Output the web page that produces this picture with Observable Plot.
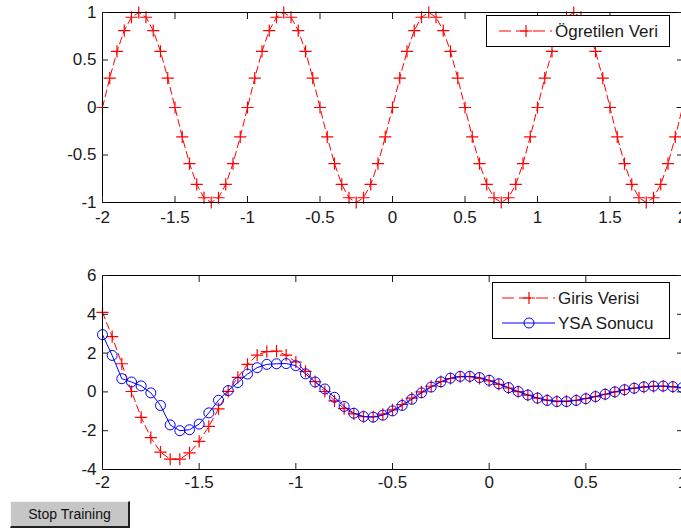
<!DOCTYPE html>
<html><head><meta charset="utf-8">
<script src="https://cdn.jsdelivr.net/npm/d3@7"></script>
<script src="https://cdn.jsdelivr.net/npm/@observablehq/plot@0.6"></script>
<style>
html,body{margin:0;padding:0;background:#fff;overflow:hidden;width:681px;height:531px;}
#wrap{position:relative;width:681px;height:531px;overflow:hidden;font-family:"Liberation Sans",Arial,sans-serif;}
.chart{position:absolute;left:0;width:700px;}
.chart svg{max-width:none !important;width:700px !important;}
#top{top:0;}
#bot{top:250px;}
#legend{position:absolute;left:0;top:0;width:681px;height:531px;pointer-events:none;}
#btn{position:absolute;left:10px;top:501px;width:117px;height:24px;background:#c6c6c6;border-top:1px solid #f4f4f4;border-left:1px solid #f4f4f4;border-right:2px solid #202020;border-bottom:2px solid #202020;font:14px "Liberation Sans",Arial,sans-serif;color:#111;text-align:center;line-height:24px;box-sizing:content-box;}
</style></head><body>
<div id="wrap">
<div id="top" class="chart"></div>
<div id="bot" class="chart"></div>
<svg id="legend" width="681" height="531"></svg>
<div id="btn">Stop Training</div>
</div>
<script>
// ---- top chart data (Ögretilen Veri) ----
const topX = [-2,-1.95,-1.9,-1.85,-1.8,-1.75,-1.7,-1.65,-1.6,-1.55,
-1.5,-1.45,-1.4,-1.35,-1.3,-1.25,-1.2,-1.15,-1.1,-1.05,
-1,-0.95,-0.9,-0.85,-0.8,-0.75,-0.7,-0.65,-0.6,-0.55,
-0.5,-0.45,-0.4,-0.35,-0.3,-0.25,-0.2,-0.15,-0.1,-0.05,
0,0.05,0.1,0.15,0.2,0.25,0.3,0.35,0.4,0.45,
0.5,0.55,0.6,0.65,0.7,0.75,0.8,0.85,0.9,0.95,
1,1.05,1.1,1.15,1.2,1.25,1.3,1.35,1.4,1.45,
1.5,1.55,1.6,1.65,1.7,1.75,1.8,1.85,1.9,1.95,
2];
const topY = [0,0.31,0.59,0.81,0.95,1,0.95,0.81,0.59,0.31,0,-0.31,-0.59,-0.81,-0.95,-1,-0.95,-0.81,-0.59,-0.31,
0,0.31,0.59,0.81,0.95,1,0.95,0.81,0.59,0.31,0,-0.31,-0.59,-0.81,-0.95,-1,-0.95,-0.81,-0.59,-0.31,
0,0.31,0.59,0.81,0.95,1,0.95,0.81,0.59,0.31,0,-0.31,-0.59,-0.81,-0.95,-1,-0.95,-0.81,-0.59,-0.31,
0,0.31,0.59,0.81,0.95,1,0.95,0.81,0.59,0.31,0,-0.31,-0.59,-0.81,-0.95,-1,-0.95,-0.81,-0.59,-0.31,
0];
const topXTicks = [-2,-1.5,-1,-0.5,0,0.5,1,1.5,2];
const topYTicks = [-1,-0.5,0,0.5,1];

// ---- bottom chart data ----
const botX = [-2,-1.95,-1.9,-1.85,-1.8,-1.75,-1.7,-1.65,-1.6,-1.55,
-1.5,-1.45,-1.4,-1.35,-1.3,-1.25,-1.2,-1.15,-1.1,-1.05,
-1,-0.95,-0.9,-0.85,-0.8,-0.75,-0.7,-0.65,-0.6,-0.55,
-0.5,-0.45,-0.4,-0.35,-0.3,-0.25,-0.2,-0.15,-0.1,-0.05,
0,0.05,0.1,0.15,0.2,0.25,0.3,0.35,0.4,0.45,
0.5,0.55,0.6,0.65,0.7,0.75,0.8,0.85,0.9,0.95,
1];
const girisY = [4.1,2.85,1.45,0.02,-1.31,-2.36,-3.1,-3.47,-3.47,-3.14,
-2.55,-1.78,-0.87,0.03,0.75,1.42,1.9,2.08,2.1,1.9,
1.54,1.06,0.53,0.02,-0.46,-0.86,-1.13,-1.28,-1.28,-1.15,
-0.93,-0.65,-0.32,0,0.29,0.53,0.69,0.78,0.78,0.7,
0.57,0.39,0.2,0.01,-0.17,-0.32,-0.42,-0.48,-0.48,-0.43,
-0.34,-0.24,-0.12,0,0.11,0.19,0.25,0.28,0.29,0.26,
0.21];
const ysaY = [2.95,1.88,0.68,0.51,0.31,-0.05,-0.7,-1.7,-2.0,-1.95,
-1.66,-1.08,-0.43,0.07,0.48,0.92,1.25,1.42,1.45,1.46,
1.35,0.93,0.51,0.15,-0.28,-0.75,-1.1,-1.27,-1.3,-1.2,
-0.98,-0.7,-0.38,-0.05,0.25,0.52,0.71,0.8,0.8,0.74,
0.6,0.42,0.22,0.02,-0.16,-0.32,-0.44,-0.5,-0.5,-0.44,
-0.35,-0.24,-0.12,0,0.11,0.19,0.26,0.3,0.3,0.27,
0.22];
const botXTicks = [-2,-1.5,-1,-0.5,0,0.5,1];
const botYTicks = [-4,-2,0,2,4,6];

const seriesNames = ["Ögretilen Veri","Giris Verisi","YSA Sonucu"];

const fmt = d => String(d);
const blank = () => "";
const style = {fontFamily:'"Liberation Sans", Arial, sans-serif', fontSize:"17px", color:"#1a1a1a", background:"transparent", overflow:"visible", maxWidth:"none"};

const topData = topX.map((x,i)=>({x, y: topY[i]}));
const topPlot = Plot.plot({
  width: 700, height: 230,
  marginLeft: 102, marginRight: 18, marginTop: 12, marginBottom: 28,
  x: {domain: [-2, 2], label: null},
  y: {domain: [-1, 1], label: null},
  style,
  marks: [
    Plot.line(topData, {x: "x", y: "y", stroke: "red", strokeWidth: 1, strokeDasharray: "7,4"}),
    Plot.dot(topData, {x: "x", y: "y", symbol: "plus", r: 4, stroke: "red", strokeWidth: 1.2}),
    Plot.frame({stroke: "black"}),
    Plot.axisX(topXTicks, {anchor: "bottom", tickSize: -6, tickPadding: 14, tickFormat: fmt, label: null}),
    Plot.axisX(topXTicks, {anchor: "top", tickSize: -6, tickFormat: blank, label: null}),
    Plot.axisY(topYTicks, {anchor: "left", tickSize: -6, tickPadding: 12, tickFormat: fmt, label: null}),
    Plot.axisY(topYTicks, {anchor: "right", tickSize: -6, tickFormat: blank, label: null})
  ]
});
document.getElementById("top").appendChild(topPlot);

const girisData = botX.map((x,i)=>({x, y: girisY[i]}));
const ysaData = botX.map((x,i)=>({x, y: ysaY[i]}));
const botPlot = Plot.plot({
  width: 700, height: 250,
  marginLeft: 102, marginRight: 18, marginTop: 25, marginBottom: 31,
  x: {domain: [-2, 1], label: null},
  y: {domain: [-4, 6], label: null},
  style,
  marks: [
    Plot.line(girisData, {x: "x", y: "y", stroke: "red", strokeWidth: 1, strokeDasharray: "7,4"}),
    Plot.dot(girisData, {x: "x", y: "y", symbol: "plus", r: 4, stroke: "red", strokeWidth: 1.2}),
    Plot.line(ysaData, {x: "x", y: "y", stroke: "blue", strokeWidth: 1}),
    Plot.dot(ysaData, {x: "x", y: "y", symbol: "circle", r: 5, stroke: "blue", fill: "none", strokeWidth: 1}),
    Plot.frame({stroke: "black"}),
    Plot.axisX(botXTicks, {anchor: "bottom", tickSize: -6, tickPadding: 12, tickFormat: fmt, label: null}),
    Plot.axisX(botXTicks, {anchor: "top", tickSize: -6, tickFormat: blank, label: null}),
    Plot.axisY(botYTicks, {anchor: "left", tickSize: -6, tickPadding: 12, tickFormat: fmt, label: null}),
    Plot.axisY(botYTicks, {anchor: "right", tickSize: -6, tickFormat: blank, label: null})
  ]
});
document.getElementById("bot").appendChild(botPlot);

// ---- legends ----
const svg = d3.select("#legend");
const font = '"Liberation Sans", Arial, sans-serif';
function box(x, y, w, h) {
  svg.append("rect").attr("x", x + 0.5).attr("y", y + 0.5).attr("width", w).attr("height", h)
    .attr("fill", "white").attr("stroke", "black").attr("stroke-width", 1);
}
function entry(y, color, dashed, symbol, label) {
  svg.append("line").attr("x1", 502).attr("x2", 555).attr("y1", y).attr("y2", y)
    .attr("stroke", color).attr("stroke-width", 1).attr("stroke-dasharray", dashed ? "12,5" : null);
  if (symbol === "plus") {
    svg.append("path").attr("d", `M${523},${y}h12M${529},${y - 6}v12`).attr("stroke", color).attr("stroke-width", 1.2).attr("fill", "none");
  } else {
    svg.append("circle").attr("cx", 529).attr("cy", y).attr("r", 5).attr("stroke", color).attr("fill", "none");
  }
  svg.append("text").attr("x", 558).attr("y", y).attr("dy", "0.36em").attr("font-family", font)
    .attr("font-size", 17).attr("fill", "#1a1a1a").text(label);
}
box(486, 15, 183, 31);
svg.append("line").attr("x1", 499).attr("x2", 552).attr("y1", 31).attr("y2", 31)
  .attr("stroke", "red").attr("stroke-dasharray", "12,5");
svg.append("path").attr("d", "M520,31h12M526,25v12").attr("stroke", "red").attr("stroke-width", 1.2);
svg.append("text").attr("x", 555).attr("y", 31).attr("dy", "0.36em").attr("font-family", font)
  .attr("font-size", 17).attr("fill", "#1a1a1a").text(seriesNames[0]);

box(492, 282, 177, 56);
entry(298, "red", true, "plus", seriesNames[1]);
entry(323, "blue", false, "circle", seriesNames[2]);
</script>
</body></html>
